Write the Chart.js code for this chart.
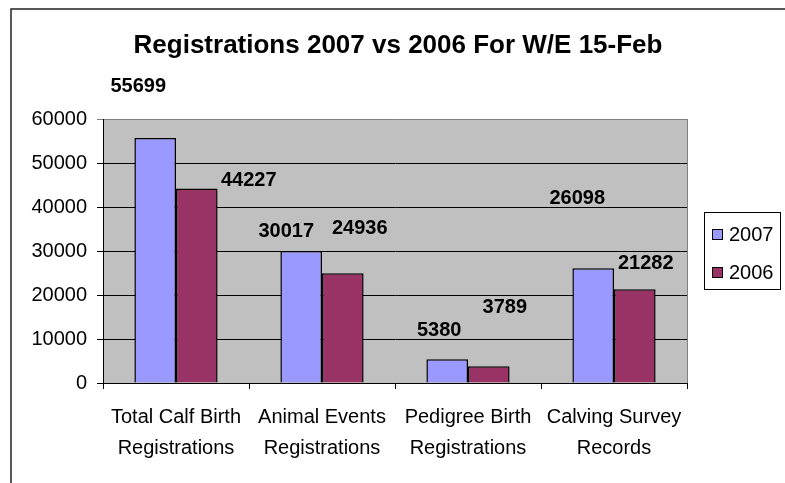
<!DOCTYPE html>
<html>
<head>
<meta charset="utf-8">
<script src="https://cdn.jsdelivr.net/npm/chart.js@4"></script>
<style>
  body{margin:0;background:#fff;}
  canvas{display:block;}
</style>
</head>
<body>
<canvas id="chart" width="785" height="483"></canvas>
<script>
/* ================= Data ================= */
const chartTitle = 'Registrations 2007 vs 2006 For W/E 15-Feb';
const categories = [
  ['Total Calf Birth', 'Registrations'],
  ['Animal Events', 'Registrations'],
  ['Pedigree Birth', 'Registrations'],
  ['Calving Survey', 'Records']
];
const seriesNames = ['2007', '2006'];
const values2007 = [55699, 30017, 5380, 26098];
const values2006 = [44227, 24936, 3789, 21282];
const yMin = 0, yMax = 60000, yStep = 10000;

/* label nudges (px) - the data labels were dragged around in the original */
const labelShift2007 = [[-17,-51],[-15,-19],[-8,-29],[-16,-70]];
const labelShift2006 = [[52,-8],[17,-45],[16,-59],[11,-26]];

const FONT = '"Liberation Sans", Arial, sans-serif';
Chart.defaults.font.family = FONT;
Chart.defaults.color = '#000';

/* ================= Plugins ================= */
const frame = {
  id: 'frame',
  beforeDraw(chart){
    const c = chart.ctx, a = chart.chartArea;
    c.save();
    c.fillStyle = '#c0c0c0';
    c.fillRect(a.left, a.top, a.right - a.left, a.bottom - a.top);
    c.strokeStyle = '#808080';
    c.lineWidth = 1;
    c.beginPath();
    c.moveTo(a.right + 0.5, a.top);
    c.lineTo(a.right + 0.5, a.bottom);
    c.stroke();
    // outer chart border (cropped on right / bottom)
    c.strokeStyle = '#222';
    c.lineWidth = 1.5;
    c.beginPath();
    c.moveTo(chart.width, 9);
    c.lineTo(11, 9);
    c.lineTo(11, chart.height);
    c.stroke();
    // title
    c.fillStyle = '#000';
    c.font = 'bold 26px ' + FONT;
    c.textAlign = 'center';
    c.textBaseline = 'middle';
    c.fillText(chartTitle, 398, 46);
    c.restore();
  }
};

const valueLabels = {
  id: 'valueLabels',
  afterDatasetsDraw(chart){
    const c = chart.ctx;
    const shifts = [labelShift2007, labelShift2006];
    c.save();
    c.font = 'bold 20px ' + FONT;
    c.fillStyle = '#000';
    c.textAlign = 'center';
    c.textBaseline = 'middle';
    chart.data.datasets.forEach((ds, i) => {
      chart.getDatasetMeta(i).data.forEach((bar, j) => {
        const s = shifts[i][j];
        c.fillText(String(ds.data[j]), bar.x + s[0], bar.y + s[1]);
      });
    });
    c.restore();
  }
};

const boxLegend = {
  id: 'boxLegend',
  afterDraw(chart){
    const c = chart.ctx, a = chart.chartArea;
    const x = a.right + 17, y = 212, w = 76, h = 77;
    c.save();
    c.fillStyle = '#fff';
    c.fillRect(x, y, w, h);
    c.strokeStyle = '#000';
    c.lineWidth = 1;
    c.strokeRect(x + 0.5, y + 0.5, w, h);
    c.font = '20px ' + FONT;
    c.textBaseline = 'middle';
    chart.data.datasets.forEach((ds, i) => {
      const cy = y + 22 + i * 38;
      c.fillStyle = ds.backgroundColor;
      c.fillRect(x + 8, cy - 5, 10, 10);
      c.strokeStyle = '#000';
      c.strokeRect(x + 8.5, cy - 4.5, 10, 10);
      c.fillStyle = '#000';
      c.fillText(ds.label, x + 25, cy + 1);
    });
    c.restore();
  }
};

/* ================= Chart ================= */
new Chart(document.getElementById('chart'), {
  type: 'bar',
  data: {
    labels: categories,
    datasets: [
      {label: seriesNames[0], data: values2007, backgroundColor: '#9999ff', borderColor: '#000', borderWidth: 1.5},
      {label: seriesNames[1], data: values2006, backgroundColor: '#993366', borderColor: '#000', borderWidth: 1.5}
    ]
  },
  options: {
    responsive: false,
    animation: false,
    devicePixelRatio: 1,
    categoryPercentage: 0.57,
    barPercentage: 1,
    layout: {padding: {left: 0, right: 98, top: 119, bottom: 0}},
    plugins: {
      legend: {display: false},
      tooltip: {enabled: false},
      title: {display: false}
    },
    scales: {
      x: {
        grid: {display: true, drawOnChartArea: false, drawTicks: true, tickLength: 6, color: '#000', offset: true},
        border: {color: '#000', width: 1},
        ticks: {font: {size: 20, lineHeight: 1.55}, padding: 13, maxRotation: 0, autoSkip: false, color: '#000'},
        afterFit(scale){ scale.height = 100; }
      },
      y: {
        min: yMin, max: yMax,
        grid: {
          color: ctx => (ctx.tick && ctx.tick.value === yMax) ? '#808080' : '#000',
          tickLength: 6
        },
        border: {color: '#000', width: 1},
        ticks: {stepSize: yStep, font: {size: 20}, padding: 10, color: '#000', callback: v => String(v)},
        afterFit(scale){ scale.width = 103; }
      }
    }
  },
  plugins: [frame, valueLabels, boxLegend]
});
</script>
</body>
</html>
